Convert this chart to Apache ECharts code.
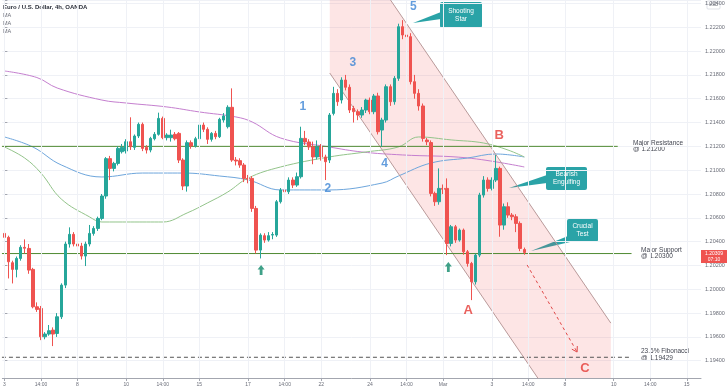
<!DOCTYPE html>
<html><head><meta charset="utf-8">
<script src="https://cdn.jsdelivr.net/npm/echarts@6/dist/echarts.min.js"></script>
<style>html,body{margin:0;padding:0;background:#fff}#c{width:728px;height:391px}</style>
</head><body><div id="c"></div>
<script>
// ---- data: EUR/USD 4h candles [open, close, low, high]
const candles = [
[1.20469,1.20436,1.20420,1.20480],[1.20436,1.20231,1.20091,1.20450],[1.20223,1.20167,1.20049,1.20240],[1.20167,1.20259,1.20100,1.20275],
[1.20259,1.20352,1.20240,1.20370],[1.20352,1.20345,1.20301,1.20419],[1.20343,1.20161,1.20130,1.20380],[1.20167,1.19853,1.19840,1.20180],
[1.19853,1.19831,1.19810,1.19890],[1.19839,1.19601,1.19573,1.19860],[1.19601,1.19624,1.19580,1.19640],[1.19624,1.19652,1.19610,1.19700],
[1.19657,1.19624,1.19523,1.19680],[1.19629,1.19769,1.19600,1.19800],[1.19769,1.20035,1.19750,1.20050],[1.20035,1.20380,1.20010,1.20400],
[1.20380,1.20461,1.20350,1.20520],[1.20461,1.20380,1.20360,1.20480],[1.20380,1.20363,1.20330,1.20420],[1.20363,1.20279,1.20250,1.20390],
[1.20279,1.20380,1.20195,1.20400],[1.20380,1.20469,1.20360,1.20540],[1.20469,1.20511,1.20450,1.20530],[1.20511,1.20595,1.20490,1.20610],
[1.20595,1.20783,1.20580,1.20800],[1.20783,1.21097,1.20760,1.21110],[1.21097,1.21015,1.20917,1.21120],[1.21015,1.21057,1.20990,1.21070],
[1.21057,1.21183,1.21040,1.21200],[1.21155,1.21192,1.21140,1.21220],[1.21161,1.21239,1.21140,1.21260],[1.21239,1.21197,1.21170,1.21444],
[1.21192,1.21287,1.21170,1.21300],[1.21287,1.21385,1.21270,1.21400],[1.21385,1.21183,1.21160,1.21400],[1.21192,1.21169,1.21140,1.21210],
[1.21169,1.21267,1.21150,1.21280],[1.21264,1.21301,1.21250,1.21320],[1.21301,1.21435,1.21290,1.21483],[1.21435,1.21273,1.21260,1.21450],
[1.21273,1.21295,1.21250,1.21310],[1.21273,1.21295,1.21240,1.21340],[1.21301,1.21264,1.21250,1.21320],[1.21309,1.21085,1.21060,1.21320],
[1.21085,1.20867,1.20833,1.21100],[1.20867,1.21231,1.20820,1.21250],[1.21231,1.21203,1.21180,1.21250],[1.21203,1.21264,1.21190,1.21280],
[1.21264,1.21379,1.21250,1.21450],[1.21379,1.21343,1.21320,1.21400],[1.21343,1.21259,1.21220,1.21360],[1.21259,1.21309,1.21240,1.21320],
[1.21309,1.21281,1.21260,1.21330],[1.21281,1.21427,1.21270,1.21440],[1.21421,1.21455,1.21400,1.21480],[1.21365,1.21528,1.21350,1.21545],
[1.21528,1.21085,1.21070,1.21687],[1.21085,1.21077,1.21040,1.21110],[1.21080,1.21043,1.21020,1.21100],[1.21043,1.20931,1.20900,1.21060],
[1.20931,1.20925,1.20890,1.20960],[1.20931,1.20679,1.20650,1.20950],[1.20679,1.20329,1.20301,1.20700],[1.20329,1.20455,1.20259,1.20470],
[1.20450,1.20413,1.20390,1.20470],[1.20413,1.20450,1.20400,1.20480],[1.20455,1.20460,1.20420,1.20480],[1.20455,1.20735,1.20440,1.20750],
[1.20735,1.20833,1.20720,1.20850],[1.20833,1.20819,1.20640,1.20860],[1.20819,1.20917,1.20800,1.20940],[1.20917,1.20875,1.20850,1.20940],
[1.20875,1.20945,1.20860,1.20980],[1.20945,1.21267,1.20930,1.21365],[1.21267,1.21237,1.21210,1.21330],[1.21237,1.21195,1.21170,1.21260],
[1.21195,1.21111,1.21050,1.21240],[1.21111,1.21195,1.21090,1.21250],[1.21195,1.21111,1.21080,1.21220],[1.21111,1.21071,1.20917,1.21130],
[1.21085,1.21463,1.21060,1.21480],[1.21477,1.21645,1.21460,1.21700],[1.21645,1.21575,1.21540,1.21680],[1.21589,1.21757,1.21560,1.21780],
[1.21757,1.21696,1.21670,1.21800],[1.21696,1.21505,1.21480,1.21720],[1.21519,1.21491,1.21400,1.21540],[1.21491,1.21463,1.21420,1.21510],
[1.21463,1.21505,1.21440,1.21530],[1.21505,1.21589,1.21480,1.21600],[1.21589,1.21491,1.21470,1.21610],[1.21491,1.21623,1.21470,1.21640],
[1.21623,1.21323,1.21300,1.21650],[1.21337,1.21421,1.21197,1.21440],[1.21421,1.21701,1.21400,1.21720],[1.21701,1.21575,1.21540,1.21720],
[1.21575,1.21771,1.21550,1.21790],[1.21771,1.22205,1.21750,1.22230],[1.22205,1.22135,1.22100,1.22260],[1.22135,1.22121,1.22090,1.22410],
[1.22121,1.21743,1.21720,1.22150],[1.21743,1.21645,1.21600,1.21800],[1.21645,1.21539,1.21500,1.21680],[1.21539,1.21267,1.21240,1.21560],
[1.21253,1.21239,1.21210,1.21270],[1.21232,1.20805,1.20780,1.21250],[1.20805,1.20735,1.20700,1.20820],[1.20735,1.20847,1.20710,1.21015],
[1.20847,1.20840,1.20800,1.20880],[1.20847,1.20385,1.20287,1.20931],[1.20385,1.20525,1.20360,1.20540],[1.20525,1.20413,1.20390,1.20540],
[1.20413,1.20497,1.20400,1.20510],[1.20497,1.20315,1.20290,1.20510],[1.20315,1.20217,1.20190,1.20330],[1.20217,1.20063,1.19909,1.20230],
[1.20063,1.20287,1.20040,1.20300],[1.20287,1.20791,1.20270,1.20810],[1.20791,1.20917,1.20770,1.20950],[1.20917,1.20847,1.20820,1.20940],
[1.20847,1.20917,1.20830,1.20940],[1.20917,1.21015,1.20900,1.21127],[1.21015,1.20539,1.20441,1.21030],[1.20539,1.20693,1.20500,1.20720],
[1.20693,1.20623,1.20600,1.20730],[1.20623,1.20609,1.20580,1.20640],[1.20609,1.20553,1.20480,1.20630],[1.20553,1.20343,1.20320,1.20570],
[1.20334,1.20309,1.20290,1.20350]
];
const slotCount = 172;
const xTickIndex = [0,9,18,30,39,48,60,69,78,90,99,108,120,129,138,150,159,168];
const xTickText  = ['3','14:00','8','10','14:00','15','17','14:00','22','24','14:00','Mar','3','14:00','8','10','14:00','15'];
// moving averages: [candle index, value]
const maSlow = [[0,1.21833],[8,1.21778],[13,1.21690],[24,1.21589],[30,1.21564],[40,1.21531],[48,1.21489],[57,1.21447],[61,1.21405],[68,1.21270],[80,1.21195],[88,1.21153],[98,1.21128],[114,1.21103],[128,1.21027]];
const maMid  = [[0,1.21279],[7,1.21195],[14,1.21044],[24,1.20943],[34,1.20976],[44,1.20976],[53,1.20951],[60,1.20918],[68,1.20834],[80,1.20834],[93,1.20892],[97,1.20951],[105,1.21060],[114,1.21102],[121,1.21136],[128,1.21111]];
const maFast = [[0,1.21195],[5,1.21102],[9,1.20976],[14,1.20758],[21,1.20607],[24,1.20565],[31,1.20565],[39,1.20565],[45,1.20641],[50,1.20725],[55,1.20817],[60,1.20934],[68,1.21027],[80,1.21111],[89,1.21153],[97,1.21195],[102,1.21279],[110,1.21254],[118,1.21228],[124,1.21169],[128,1.21111]];
// drawings (data coordinates: [candle index, price])
const channelUpper = [[80.1,1.23177],[149.3,1.19716]];
const channelLower = [[80.1,1.21816],[149.3,1.18356]];
const resistanceLine = [[-0.6,1.212],[151,1.212]];
const supportLine = [[-0.6,1.203],[154.4,1.203]];
const fibLine = [[-0.6,1.19429],[154.4,1.19429]];
const projection = [[128.7,1.20204],[141,1.19473]];
const upArrows = [[63.2,1.20162],[109.3,1.20187]];
const waveLabels = [['1',73.5,1.21531],['2',79.6,1.20842],['3',85.8,1.21900],['4',93.6,1.21052],['5',100.7,1.22370]];
const abcLabels = [['A',114.2,1.19826],['B',121.8,1.21296],['C',142.9,1.19339]];
const lastPrice = '1.20309';

const cats = [];
for (let i = 0; i < slotCount; i++) cats.push(String(i));
const tickMap = {};
xTickIndex.forEach((k, j) => tickMap[k] = xTickText[j]);

const chart = echarts.init(document.getElementById('c'), null, {renderer: 'canvas'});
const FONT = 'Liberation Sans, Arial, sans-serif';
const hLine = (data, color, type) => ({
  type: 'line', xAxisIndex: 1, yAxisIndex: 0, data, symbol: 'none', silent: true, z: 3,
  lineStyle: {color, width: 1, type: type || 'solid'}
});
const textCol = '#434651';
const teal = '#2aa3a7';

chart.setOption({
  animation: false,
  backgroundColor: '#ffffff',
  grid: {left: 1, right: 27, top: 0, bottom: 13},
  xAxis: [{
    type: 'category', data: cats, boundaryGap: true,
    axisLine: {show: true, lineStyle: {color: '#a3a6af'}},
    axisTick: {show: true, alignWithLabel: true, length: 3, lineStyle: {color: '#a3a6af'},
      interval: (i) => tickMap[i] !== undefined},
    axisLabel: {show: true, fontSize: 5, color: '#6a6d78', margin: 4, fontFamily: FONT,
      interval: (i) => tickMap[i] !== undefined, formatter: (v, i) => tickMap[i] || ''},
    splitLine: {show: false}
  }, {
    type: 'value', min: -0.5, max: slotCount - 0.5, show: false
  }],
  yAxis: [{
    type: 'value', position: 'right', min: 1.19255, max: 1.22429, scale: true,
    splitNumber: 16, minInterval: 0.002, maxInterval: 0.002,
    axisLine: {show: true, lineStyle: {color: '#a3a6af'}},
    axisTick: {show: true, length: 3, lineStyle: {color: '#a3a6af'}},
    axisLabel: {fontSize: 5.5, color: '#6a6d78', margin: 4, fontFamily: FONT,
      formatter: (v) => Math.abs(v / 0.002 - Math.round(v / 0.002)) < 1e-6 ? v.toFixed(5) : ''},
    splitLine: {show: true, lineStyle: {color: '#eff1f6', width: 1}}
  }],
  series: [
    { // vertical grid lines
      type: 'line', xAxisIndex: 1, yAxisIndex: 0, data: [], z: 0, silent: true,
      markLine: {silent: true, symbol: 'none', label: {show: false},
        lineStyle: {color: '#eff1f6', type: 'solid', width: 1},
        data: xTickIndex.map(k => ({xAxis: k}))}
    },
    { // channel fill
      type: 'custom', xAxisIndex: 1, yAxisIndex: 0, clip: true, silent: true, z: 1,
      data: [0],
      renderItem: (params, api) => {
        const pts = [channelUpper[0], channelUpper[1], channelLower[1], channelLower[0]].map(p => api.coord(p));
        return {type: 'polygon', shape: {points: pts}, style: {fill: 'rgba(242,80,80,0.15)'}};
      }
    },
    hLine(channelUpper, '#b99a9a'),
    hLine(channelLower, '#b99a9a'),
    hLine(resistanceLine, '#4f8a32'),
    hLine(supportLine, '#4f8a32'),
    hLine(fibLine, '#555555', [4, 3]),
    {type: 'line', xAxisIndex: 1, yAxisIndex: 0, data: maSlow, symbol: 'none', smooth: 0.4, silent: true, z: 2,
      lineStyle: {color: '#c57fcf', width: 1}},
    {type: 'line', xAxisIndex: 1, yAxisIndex: 0, data: maMid, symbol: 'none', smooth: 0.4, silent: true, z: 2,
      lineStyle: {color: '#6ea6dc', width: 1}},
    {type: 'line', xAxisIndex: 1, yAxisIndex: 0, data: maFast, symbol: 'none', smooth: 0.4, silent: true, z: 2,
      lineStyle: {color: '#93c48a', width: 1}},
    {
      type: 'candlestick', xAxisIndex: 0, yAxisIndex: 0, data: candles, barWidth: 3, z: 4,
      itemStyle: {color: '#26a69a', color0: '#ef5350', borderColor: '#26a69a', borderColor0: '#ef5350', borderWidth: 1}
    },
    { // projected move arrow
      type: 'custom', xAxisIndex: 1, yAxisIndex: 0, clip: true, silent: true, z: 5, data: [0],
      renderItem: (params, api) => {
        const a = api.coord(projection[0]), b = api.coord(projection[1]);
        const ang = Math.atan2(b[1] - a[1], b[0] - a[0]);
        const L = 6, w = 0.55;
        const p1 = [b[0] - L * Math.cos(ang - w), b[1] - L * Math.sin(ang - w)];
        const p2 = [b[0] - L * Math.cos(ang + w), b[1] - L * Math.sin(ang + w)];
        return {type: 'group', children: [
          {type: 'line', shape: {x1: a[0], y1: a[1], x2: b[0], y2: b[1]}, style: {stroke: '#e04848', lineWidth: 1, lineDash: [3, 3]}},
          {type: 'polyline', shape: {points: [p1, b, p2]}, style: {stroke: '#e04848', lineWidth: 1, fill: null}}
        ]};
      }
    },
    {
      type: 'scatter', xAxisIndex: 1, yAxisIndex: 0, data: upArrows, silent: true, z: 6,
      symbol: 'path://M5,0 L10,5 L7,5 L7,11 L3,11 L3,5 L0,5 Z', symbolSize: [7, 10],
      itemStyle: {color: '#0f8a6a'}
    },
    {
      type: 'scatter', xAxisIndex: 1, yAxisIndex: 0, silent: true, z: 6, symbolSize: 0,
      data: waveLabels.map(d => ({name: d[0], value: [d[1], d[2]]})),
      label: {show: true, position: 'inside', formatter: '{b}', color: '#3c84d4', fontSize: 12, fontWeight: 'bold', fontFamily: FONT}
    },
    {
      type: 'scatter', xAxisIndex: 1, yAxisIndex: 0, silent: true, z: 6, symbolSize: 0,
      data: abcLabels.map(d => ({name: d[0], value: [d[1], d[2]]})),
      label: {show: true, position: 'inside', formatter: '{b}', color: '#e53935', fontSize: 13, fontWeight: 'bold', fontFamily: FONT}
    }
  ],
  graphic: [
    {type: 'text', x: 3, y: 4, style: {text: 'Euro / U.S. Dollar, 4h, OANDA', fontSize: 6, fontWeight: 'bold', fill: '#2a2e39', fontFamily: FONT}},
    {type: 'text', x: 3, y: 12, style: {text: 'MA', fontSize: 5.5, fill: '#6a6d78', fontFamily: FONT}},
    {type: 'text', x: 3, y: 20, style: {text: 'MA', fontSize: 5.5, fill: '#6a6d78', fontFamily: FONT}},
    {type: 'text', x: 3, y: 28, style: {text: 'MA', fontSize: 5.5, fill: '#6a6d78', fontFamily: FONT}},
    // level captions
    {type: 'text', x: 633, y: 139.5, style: {text: 'Major Resistance\n@ 1.21200', fontSize: 6.5, lineHeight: 6.5, fill: textCol, fontFamily: FONT}},
    {type: 'text', x: 641, y: 246.5, style: {text: 'Major Support\n@ 1.20300', fontSize: 6.5, lineHeight: 6.5, fill: textCol, fontFamily: FONT}},
    {type: 'text', x: 641, y: 348, style: {text: '23.6% Fibonacci\n@ 1.19429', fontSize: 6.5, lineHeight: 6.5, fill: textCol, fontFamily: FONT}},
    // callouts
    {type: 'polygon', shape: {points: [[413, 23], [441, 12], [441, 19]]}, style: {fill: teal}},
    {type: 'rect', shape: {x: 440, y: 2, width: 42, height: 26, r: 2}, style: {fill: teal}},
    {type: 'text', x: 461, y: 15, style: {text: 'Shooting\nStar', fontSize: 6.5, lineHeight: 8, fill: '#fff', align: 'center', verticalAlign: 'middle', fontFamily: FONT}},
    {type: 'polygon', shape: {points: [[509, 188], [547, 175], [547, 183]]}, style: {fill: teal}},
    {type: 'rect', shape: {x: 546, y: 167, width: 41, height: 23, r: 2}, style: {fill: teal}},
    {type: 'text', x: 566.5, y: 178.5, style: {text: 'Bearish\nEngulfing', fontSize: 6.5, lineHeight: 8, fill: '#fff', align: 'center', verticalAlign: 'middle', fontFamily: FONT}},
    {type: 'polygon', shape: {points: [[531, 251], [568, 236], [570, 242]]}, style: {fill: teal}},
    {type: 'rect', shape: {x: 567, y: 219, width: 31, height: 23, r: 2}, style: {fill: teal}},
    {type: 'text', x: 582.5, y: 230.5, style: {text: 'Crucial\nTest', fontSize: 6.5, lineHeight: 8, fill: '#fff', align: 'center', verticalAlign: 'middle', fontFamily: FONT}},
    // price tag
    {type: 'rect', shape: {x: 701, y: 250, width: 26, height: 13}, style: {fill: '#ef5350'}},
    {type: 'text', x: 714, y: 251, style: {text: lastPrice, fontSize: 5, fill: '#fff', align: 'center', verticalAlign: 'top', fontFamily: FONT}},
    {type: 'text', x: 714, y: 257, style: {text: '07:10', fontSize: 5, fill: '#fff', align: 'center', verticalAlign: 'top', fontFamily: FONT}},
    {type: 'rect', shape: {x: 707, y: 1, width: 13, height: 8, r: 1}, style: {fill: '#fff', stroke: '#d1d4dc', lineWidth: 0.7}},
    {type: 'text', x: 713.5, y: 5, style: {text: 'USD', fontSize: 4.5, fill: '#6a6d78', align: 'center', verticalAlign: 'middle', fontFamily: FONT}}
  ]
});
</script></body></html>
